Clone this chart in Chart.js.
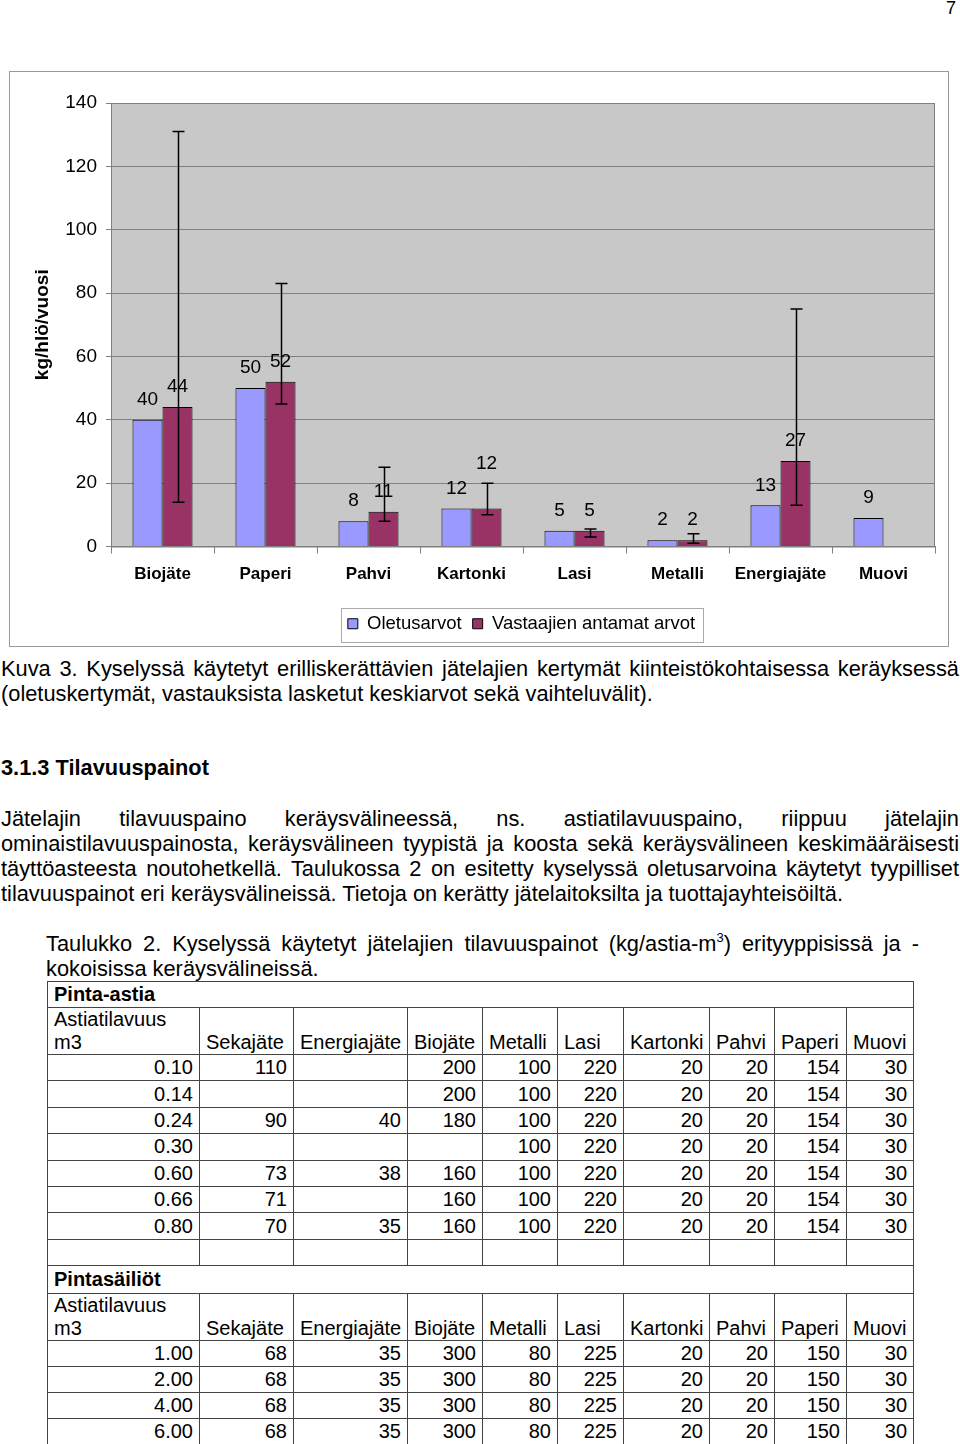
<!DOCTYPE html>
<html>
<head>
<meta charset="utf-8">
<script src="https://cdn.jsdelivr.net/npm/chart.js@4.4.1/dist/chart.umd.min.js"></script>
<style>
  body { margin: 0; width: 960px; height: 1444px; position: relative; overflow: hidden; background: #fff; color: #000;
         font-family: "Liberation Sans", Arial, sans-serif; }
  .pg { position: absolute; left: 946px; top: -2px; font-size: 18px; }
  #frame { position: absolute; left: 9px; top: 71px; width: 938px; height: 574px; border: 1px solid #999; pointer-events: none; }
  #chart { position: absolute; left: 10px; top: 72px; }
  .txt { position: absolute; font-size: 21.8px; line-height: 25px; white-space: nowrap; }
  .txt .j { text-align: justify; text-align-last: justify; }
  .txt sup { font-size: 13px; line-height: 0; vertical-align: 9px; }
  .b { font-weight: bold; }
  #tbl { position: absolute; left: 47px; top: 981px; width: 866px; table-layout: fixed; border-collapse: collapse; font-size: 20px; }
  #tbl td { border: 1.5px solid #444; padding: 0 6px; line-height: 23px; text-align: right; vertical-align: middle; white-space: nowrap; overflow: hidden; }
  #tbl tr.sec td { text-align: left; font-weight: bold; }
  #tbl tr.hd td { text-align: left; vertical-align: bottom; }
</style>
</head>
<body>
<div class="pg">7</div>
<canvas id="chart" width="938" height="571"></canvas>
<div id="frame"></div>

<div class="txt" style="top:656px; left:1px; width:958px;">
  <div class="j">Kuva 3. Kyselyssä käytetyt erilliskerättävien jätelajien kertymät kiinteistökohtaisessa keräyksessä</div>
  <div>(oletuskertymät, vastauksista lasketut keskiarvot sekä vaihteluvälit).</div>
</div>
<div class="txt b" style="top:755px; left:1px;">3.1.3 Tilavuuspainot</div>
<div class="txt" style="top:806px; left:1px; width:958px;">
  <div class="j">Jätelajin tilavuuspaino keräysvälineessä, ns. astiatilavuuspaino, riippuu jätelajin</div>
  <div class="j">ominaistilavuuspainosta, keräysvälineen tyypistä ja koosta sekä keräysvälineen keskimääräisesti</div>
  <div class="j">täyttöasteesta noutohetkellä. Taulukossa 2 on esitetty kyselyssä oletusarvoina käytetyt tyypilliset</div>
  <div>tilavuuspainot eri keräysvälineissä. Tietoja on kerätty jätelaitoksilta ja tuottajayhteisöiltä.</div>
</div>
<div class="txt" style="top:931px; left:46px; width:873px;">
  <div class="j">Taulukko 2. Kyselyssä käytetyt jätelajien tilavuuspainot (kg/astia-m<sup>3</sup>) erityyppisissä ja -</div>
  <div>kokoisissa keräysvälineissä.</div>
</div>

<table id="tbl"></table>

<script>
// chart data
const categories = ["Biojäte", "Paperi", "Pahvi", "Kartonki", "Lasi", "Metalli", "Energiajäte", "Muovi"];
const seriesNames = ["Oletusarvot", "Vastaajien antamat arvot"];
const defaultValues = [40, 50, 8, 12, 5, 2, 13, 9];
const answerValues = [44, 52, 11, 12, 5, 2, 27, null];
const answerLow = [14, 45, 8, 10, 3, 1, 13, null];
const answerHigh = [131, 83, 25, 20, 5.5, 4, 75, null];
const yTicks = [0, 20, 40, 60, 80, 100, 120, 140];
const yTitle = "kg/hlö/vuosi";

// table data
const wasteTypes = ["Sekajäte", "Energiajäte", "Biojäte", "Metalli", "Lasi", "Kartonki", "Pahvi", "Paperi", "Muovi"];
const sizeHeader = ["Astiatilavuus", "m3"];
const pintaSizes = ["0.10", "0.14", "0.24", "0.30", "0.60", "0.66", "0.80"];
const pintaRows = [
    ["110", "", "200", "100", "220", "20", "20", "154", "30"],
    ["", "", "200", "100", "220", "20", "20", "154", "30"],
    ["90", "40", "180", "100", "220", "20", "20", "154", "30"],
    ["", "", "", "100", "220", "20", "20", "154", "30"],
    ["73", "38", "160", "100", "220", "20", "20", "154", "30"],
    ["71", "", "160", "100", "220", "20", "20", "154", "30"],
    ["70", "35", "160", "100", "220", "20", "20", "154", "30"],
];
const sailioSizes = ["1.00", "2.00", "4.00", "6.00"];
const sailioRows = [
    ["68", "35", "300", "80", "225", "20", "20", "150", "30"],
    ["68", "35", "300", "80", "225", "20", "20", "150", "30"],
    ["68", "35", "300", "80", "225", "20", "20", "150", "30"],
    ["68", "35", "300", "80", "225", "20", "20", "150", "30"],
];
const colWidths = [152, 94, 114, 75, 75, 66, 86, 65, 72, 67];

function buildTable() {
    const tbl = document.getElementById("tbl");
    let html = "<colgroup>" + colWidths.map((w) => `<col style="width:${w}px">`).join("") + "</colgroup>";
    const section = (name, h) => `<tr class="sec" style="height:${h}px"><td colspan="10">${name}</td></tr>`;
    const header = (h) => `<tr class="hd" style="height:${h}px"><td>${sizeHeader.join("<br>")}</td>` +
        wasteTypes.map((t) => `<td>${t}</td>`).join("") + "</tr>";
    const rows = (sizes, data, h) => sizes.map((s, i) =>
        `<tr style="height:${h}px"><td>${s}</td>` + data[i].map((v) => `<td>${v}</td>`).join("") + "</tr>").join("");
    html += section("Pinta-astia", 26) + header(46) + rows(pintaSizes, pintaRows, 26.4);
    html += `<tr style="height:26px">` + colWidths.map(() => "<td></td>").join("") + "</tr>";
    html += section("Pintasäiliöt", 28) + header(45) + rows(sailioSizes, sailioRows, 26.2);
    tbl.innerHTML = html;
}
buildTable();

const FONT = "'Liberation Sans', Arial, sans-serif";
Chart.defaults.font.family = FONT;
Chart.defaults.color = "#000";

const plotBackground = {
    id: "plotBackground",
    beforeDraw(chart) {
        const { ctx, chartArea: a } = chart;
        ctx.save();
        ctx.fillStyle = "#c8c8c8";
        ctx.fillRect(a.left, a.top, a.right - a.left, a.bottom - a.top);
        ctx.restore();
    },
    beforeDatasetsDraw(chart) {
        const { ctx, chartArea: a } = chart;
        ctx.save();
        ctx.strokeStyle = "#808080";
        ctx.lineWidth = 1;
        ctx.strokeRect(a.left + 0.5, a.top + 0.5, a.right - a.left - 1, a.bottom - a.top);
        ctx.restore();
    },
};

// value labels above bars; a label that would sit on an error-bar cap goes above the cap
const valueLabels = {
    id: "valueLabels",
    afterDatasetsDraw(chart) {
        const { ctx } = chart;
        const y = chart.scales.y;
        ctx.save();
        ctx.font = `19px ${FONT}`;
        ctx.fillStyle = "#000";
        ctx.textAlign = "center";
        ctx.textBaseline = "middle";
        chart.data.datasets.forEach((ds, di) => {
            chart.getDatasetMeta(di).data.forEach((bar, i) => {
                if (ds.data[i] == null) return;
                let ly = bar.y - 20;
                if (di === 1 && answerHigh[i] != null) {
                    const cap = y.getPixelForValue(answerHigh[i]);
                    if (Math.abs(cap - ly) < 8) ly = cap - 19;
                }
                ctx.fillText(String(ds.data[i]), bar.x, ly);
            });
        });
        ctx.restore();
    },
};

const errorBars = {
    id: "errorBars",
    afterDatasetsDraw(chart) {
        const { ctx } = chart;
        const y = chart.scales.y;
        const meta = chart.getDatasetMeta(1);
        ctx.save();
        ctx.strokeStyle = "#000";
        ctx.lineWidth = 1.5;
        meta.data.forEach((bar, i) => {
            if (answerLow[i] == null) return;
            const x = Math.round(bar.x) + 0.5;
            const yl = y.getPixelForValue(answerLow[i]);
            const yh = y.getPixelForValue(answerHigh[i]);
            ctx.beginPath();
            ctx.moveTo(x, yl);
            ctx.lineTo(x, yh);
            ctx.moveTo(x - 6, yl);
            ctx.lineTo(x + 6, yl);
            ctx.moveTo(x - 6, yh);
            ctx.lineTo(x + 6, yh);
            ctx.stroke();
        });
        ctx.restore();
    },
};

const legendFrame = {
    id: "legendFrame",
    afterLayout(chart) {
        // legend sits right of centre in the original
        chart.legend.left += 49;
        chart.legend.right += 49;
    },
    afterDraw(chart) {
        const boxes = chart.legend.legendHitBoxes;
        if (!boxes || !boxes.length) return;
        const left = Math.min(...boxes.map((b) => b.left)) - 7;
        const right = Math.max(...boxes.map((b) => b.left + b.width)) + 8;
        const mid = boxes[0].top + boxes[0].height / 2;
        const { ctx } = chart;
        ctx.save();
        ctx.strokeStyle = "#aaa";
        ctx.lineWidth = 1;
        ctx.strokeRect(Math.round(left) + 0.5, Math.round(mid - 16) + 0.5, Math.round(right - left), 34);
        ctx.restore();
    },
};

new Chart(document.getElementById("chart"), {
    type: "bar",
    data: {
        labels: categories,
        datasets: [
            {
                label: seriesNames[0],
                data: defaultValues,
                backgroundColor: "#9999ff",
                borderColor: "#000",
                borderWidth: 1,
            },
            {
                label: seriesNames[1],
                data: answerValues,
                backgroundColor: "#993366",
                borderColor: "#000",
                borderWidth: 1,
            },
        ],
    },
    options: {
        responsive: false,
        animation: false,
        devicePixelRatio: 1,
        layout: { padding: { top: 31, right: 13, left: 0, bottom: 0 } },
        datasets: { bar: { barPercentage: 1, categoryPercentage: 0.583 } },
        scales: {
            x: {
                afterFit: (s) => { s.height = 57; },
                ticks: { font: { size: 17, weight: "bold" }, padding: 11, color: "#000" },
                grid: { display: true, drawOnChartArea: false, tickLength: 7, color: "#808080", offset: true },
                border: { color: "#808080" },
            },
            y: {
                min: yTicks[0],
                max: yTicks[yTicks.length - 1],
                afterFit: (s) => { s.width = 101; },
                ticks: { stepSize: yTicks[1] - yTicks[0], font: { size: 19 }, padding: 9, color: "#000" },
                grid: { color: "#808080", tickLength: 5 },
                border: { color: "#808080" },
                title: {
                    display: true,
                    text: yTitle,
                    font: { size: 19, weight: "bold" },
                    padding: { top: 21, bottom: 0 },
                    color: "#000",
                },
            },
        },
        plugins: {
            legend: {
                position: "bottom",
                labels: { font: { size: 18.5 }, boxWidth: 10, boxHeight: 10, padding: 11, color: "#000" },
            },
            tooltip: { enabled: false },
        },
    },
    plugins: [plotBackground, valueLabels, errorBars, legendFrame],
});
</script>
</body>
</html>
